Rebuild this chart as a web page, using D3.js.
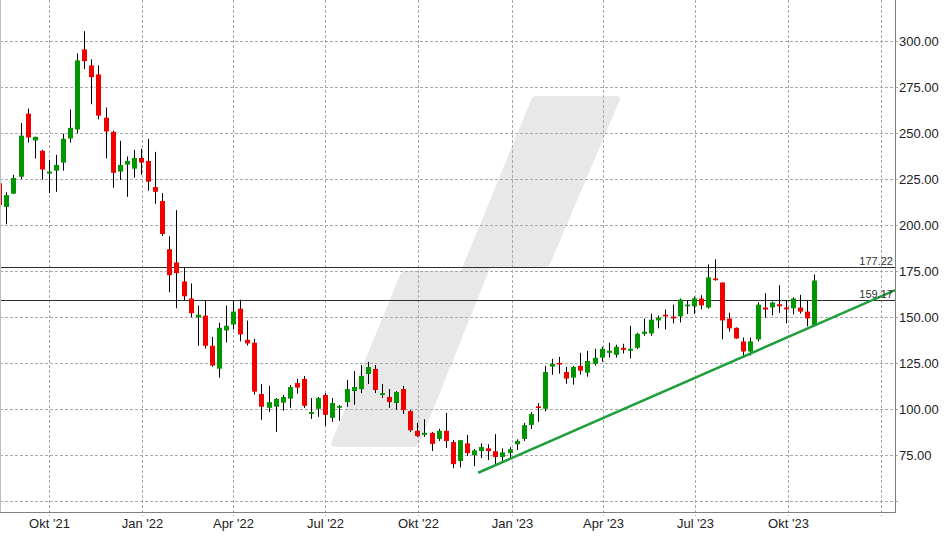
<!DOCTYPE html>
<html><head><meta charset="utf-8">
<script src="https://cdn.jsdelivr.net/npm/d3@7"></script>
<style>body{margin:0;background:#fff}svg{display:block}text{font-family:"Liberation Sans",Arial,sans-serif}</style>
</head><body><svg id="c" width="948" height="540"></svg>
<script>
// ---- data ----
const firstWeek = "2021-08-13", lastWeek = "2023-10-27"; // weekly candles (Fridays)
const opens = [222.8,210,217.2,226.4,260.7,246.1,240.5,228.1,229.7,234.1,
 247.2,252.1,295.6,286.9,282,258.5,250.8,229.2,233,230.8,
 236.6,235,220.8,213.2,187,179.8,169.5,160.2,150,150.9,
 134.5,122.1,142.9,146.1,154.7,137.8,136.2,108.3,100.8,101.4,
 103.6,105.8,114.3,116.5,97.5,100.3,107.8,95.4,100.8,103.9,
 109.9,111,119.2,121.9,107.8,106.7,103.4,111,99,88.3,
 86.1,87.2,83.9,88.3,82.2,71.9,81.5,75.1,77.3,78.8,
 77.2,74.1,76.2,81,83.9,91.5,101.6,100.3,123.2,125.2,
 120.3,117.2,123.6,119.9,124.7,128.1,130.7,129.6,133.4,131.8,
 133.4,141,141.2,148.3,151.4,150.4,150.5,156,156,160.2,
 155.3,171.1,168.9,149.3,144.3,136.9,131.4,138,155.3,155.4,
 157.1,155.3,154.9,155.3,153.1,145.3];
const highs = [224,218,227.4,255.6,263.4,248.1,241,235.6,238.3,249.8,
 262.9,293.4,305.5,290.2,286.9,264,251.4,245.9,237.4,241,
 241.6,247,239.9,217.5,194,208.2,177.3,168.4,156.4,159.1,
 139.4,147,156.4,159.1,159.6,148.2,138.3,113.8,112.7,106.1,
 107.8,113.2,116.5,118.1,106.1,106.7,108.8,106.1,102.3,116,
 120.8,124.1,125.8,124.1,113.8,111,109.9,112.7,99.6,92.6,
 94.6,87.7,89.4,98.1,83.3,83.2,86.1,78.4,81.5,81,
 86.5,78.8,79.4,83.7,92.6,98.5,103.4,123.6,127.4,128.5,
 123,123.6,130.7,131.8,132.9,134,136.2,135.1,135.6,145.4,
 141.6,149.3,152,150.9,154.2,156.9,160.2,159.3,161.3,162,
 178.8,181.5,168.9,152.5,144.5,139,139,158.2,163.1,158.5,
 167.4,159.3,160.9,162.2,159.1,173.3];
const lows = [210,200.6,217,225.2,245,236.3,224.8,217.5,218.2,229.7,
 245,249.9,284.9,265.8,257.6,236.3,220.4,224.6,215.5,225.9,
 227.5,218.8,211.7,194.2,163.6,154.9,159.3,150,134.5,133,
 123.2,117.2,136.3,143.4,136.9,134.7,108,94.3,98.6,87.7,
 99.2,100.8,108.5,100.8,94.8,95.9,91,93.2,93.7,101.4,
 102.5,108.8,113.8,108.8,106.1,100.8,99.7,97.5,87.7,85,
 85,77.3,82.8,79,68,68.4,74.6,69.1,73.5,72.4,
 70.2,70.8,72.9,77.9,82.8,89.3,93.2,98.9,118.8,119.4,
 113.9,113.4,118.8,117.7,123.8,125.8,128.1,128.1,130.3,127.6,
 132.7,140,140,144,143.4,146.7,147.2,151.8,151.8,154.3,
 154.7,169.9,138,142.3,138.3,128.7,129.2,136.9,149.8,151,
 152.4,146.7,151.6,152,145.1,144.9];
const closes = [211,216.4,225.7,248.7,247.7,248.1,230.3,229.2,232.8,247,
 253,289.6,289.2,280.5,259.6,251,228.5,232.8,235,236.6,
 234.1,223.7,218.2,195.3,172.9,174,161.4,152.2,151.4,134.5,
 123.8,144.3,145.4,153.1,140.7,135.8,109.6,101.4,103.9,105.6,
 106.7,112.1,111.8,101.9,98.5,106.1,97,103.4,101.7,111,
 112.1,118.1,123,110.5,108.8,103.9,109.4,99.6,88.6,85.4,
 87.2,81.2,88.3,82.8,70.2,83.2,76.2,77.7,79.5,77.3,
 74.1,76.6,78.3,82.8,91.4,97.4,100.7,120.3,124.7,124.3,
 116.7,123,121,126.3,128,132.9,131.8,134,132.3,132.9,
 141,142.2,148.7,149.8,150.5,149.4,159.6,156.9,160.3,156.5,
 171.7,170.2,148.3,144,138.5,131.4,136.9,156.9,154.2,158,
 156,154.3,160.2,153.1,149.4,170];
const quarterTicks = ["2021-10-01","2022-01-01","2022-04-01","2022-07-01","2022-10-01","2023-01-01","2023-04-01","2023-07-01","2023-10-01","2024-01-01"];
const quarterLabels = ["Okt '21","Jan '22","Apr '22","Jul '22","Okt '22","Jan '23","Apr '23","Jul '23","Okt '23",""];
const priceTicks = [50,75,100,125,150,175,200,225,250,275,300];
const priceLabels = ["","75.00","100.00","125.00","150.00","175.00","200.00","225.00","250.00","275.00","300.00"];
const levels = [177.22, 159.17];
const levelLabels = ["177.22","159.17"];
const trendDates = ["2022-11-29","2024-01-15"];
const trendValues = [65.5, 164.8];

// ---- setup ----
const parse = d3.timeParse("%Y-%m-%d");
const weeks = d3.timeFriday.range(parse(firstWeek), d3.timeDay.offset(parse(lastWeek), 1));
const candles = weeks.map((d, i) => ({date: d, o: opens[i], h: highs[i], l: lows[i], c: closes[i]}));

const W = 895, H = 512;
const svg = d3.select("#c");
const x = d3.scaleTime().domain([new Date(2021,7,13,18), new Date(2024,0,14,18)]).range([0, W]);
const y = d3.scaleLinear().domain([300, 50]).range([41.3, 501.3]);

svg.append("defs").append("clipPath").attr("id","clip")
  .append("rect").attr("x",0).attr("y",0).attr("width",W).attr("height",H);

// watermark (logo-like slash)
svg.append("path")
  .attr("d","M536,96 L616,96 Q622,96 619,102 L550,264 Q548,268 540,268 L490,268 L420,442 Q418,447 412,447 L336,447 Q329,447 332,441 L400,275 Q402,271 408,271 L461,271 L531,100 Q533,96 536,96 Z")
  .attr("fill","#e8e8e8");

// grid
const grid = svg.append("g");
priceTicks.forEach(v => {
  const yy = Math.round(y(v)) + 0.5;
  grid.append("line").attr("x1",0).attr("x2",W+4).attr("y1",yy).attr("y2",yy)
    .attr("stroke","#a8a8a8").attr("stroke-dasharray","3,2");
});
quarterTicks.forEach(s => {
  const xx = Math.round(x(parse(s))) + 0.5;
  grid.append("line").attr("x1",xx).attr("x2",xx).attr("y1",0).attr("y2",H+4)
    .attr("stroke","#a8a8a8").attr("stroke-dasharray","3,2");
});

// level lines
const plot = svg.append("g").attr("clip-path","url(#clip)");
levels.forEach((v, i) => {
  const yy = Math.round(y(v)) + 0.5;
  plot.append("line").attr("x1",0).attr("x2",W).attr("y1",yy).attr("y2",yy)
    .attr("stroke","#2e2e2e").attr("stroke-width",1.2);
  svg.append("text").attr("x",W-2).attr("y",yy-3).attr("text-anchor","end")
    .attr("font-size",11).attr("fill","#333").text(levelLabels[i]);
});

// candles
const cg = plot.append("g");
candles.forEach(d => {
  const cx = Math.round(x(d.date));
  const up = d.c > d.o;
  cg.append("line").attr("x1",cx+0.5).attr("x2",cx+0.5).attr("y1",y(d.h)).attr("y2",y(d.l))
    .attr("stroke","#000").attr("stroke-width",1);
  const y0 = y(Math.max(d.o,d.c)), y1 = y(Math.min(d.o,d.c));
  cg.append("rect").attr("x",cx-2).attr("width",5).attr("y",y0).attr("height",Math.max(1.5,y1-y0))
    .attr("fill", up ? "#009600" : "#f20000");
});

// trend line
plot.append("path")
  .datum(trendDates.map((s,i)=>({d:parse(s), v:trendValues[i]})))
  .attr("d", d3.line().x(p=>x(p.d)).y(p=>y(p.v)))
  .attr("fill","none").attr("stroke","#1f9e3c").attr("stroke-width",2.6);

// borders
svg.append("line").attr("x1",0.5).attr("x2",0.5).attr("y1",0).attr("y2",H).attr("stroke","#bdbdbd");
svg.append("line").attr("x1",W+0.5).attr("x2",W+0.5).attr("y1",0).attr("y2",H+0.5).attr("stroke","#808080");
svg.append("line").attr("x1",0).attr("x2",W+1).attr("y1",H+0.5).attr("y2",H+0.5).attr("stroke","#808080");

// axes labels
priceTicks.forEach((v,i) => {
  if (!priceLabels[i]) return;
  svg.append("text").attr("x",899).attr("y",Math.round(y(v))+0.5).attr("dy","0.36em")
    .attr("font-size",13).attr("fill","#222").text(priceLabels[i]);
});
quarterTicks.forEach((s,i) => {
  if (!quarterLabels[i]) return;
  svg.append("text").attr("x",Math.round(x(parse(s)))+0.5).attr("y",528).attr("text-anchor","middle")
    .attr("font-size",13).attr("fill","#222").text(quarterLabels[i]);
});
</script></body></html>
